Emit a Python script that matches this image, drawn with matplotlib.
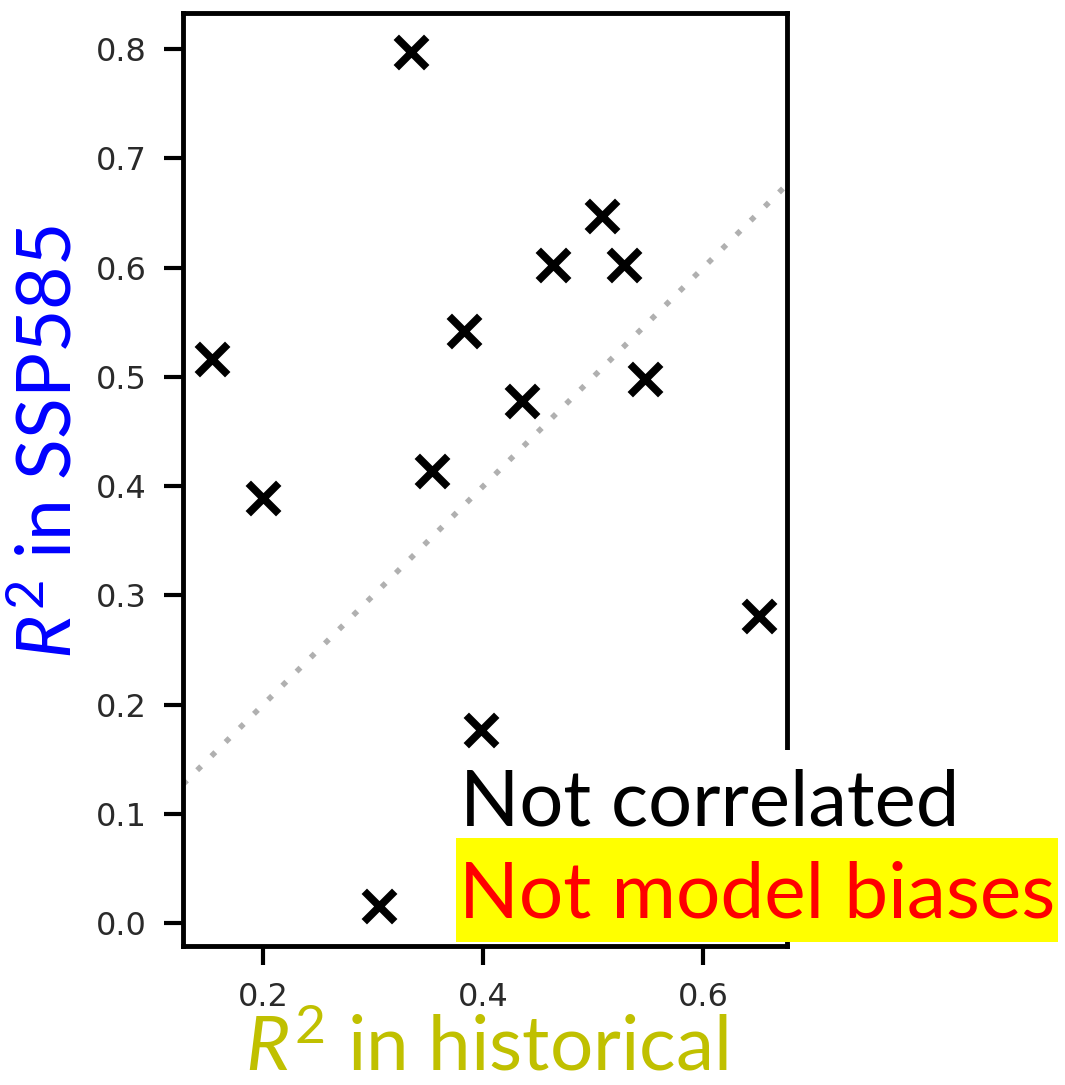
import matplotlib
matplotlib.use("Agg")
import matplotlib.pyplot as plt
from matplotlib.patches import Rectangle

# R^2 per model: historical vs SSP585
r2_hist = [0.153, 0.200, 0.334, 0.305, 0.353, 0.382, 0.398, 0.435, 0.463, 0.508, 0.528, 0.547, 0.651]
r2_ssp = [0.516, 0.389, 0.797, 0.016, 0.414, 0.542, 0.177, 0.478, 0.602, 0.647, 0.602, 0.498, 0.281]

xticks = [0.2, 0.4, 0.6]
yticks = [0.0, 0.1, 0.2, 0.3, 0.4, 0.5, 0.6, 0.7, 0.8]

plt.rcParams["mathtext.fontset"] = "custom"
plt.rcParams["mathtext.rm"] = "Lato"
plt.rcParams["mathtext.it"] = "Lato:italic"

W, H = 1065, 1085
fig = plt.figure(figsize=(W / 100, H / 100), dpi=100)
ax = fig.add_axes([183 / W, 1 - 946 / H, (787 - 183) / W, (946 - 13) / H])

# 1:1 reference line
xlim = (0.127, 0.676)
ax.plot(xlim, xlim, ls=(0, (1, 2.6)), color="#b0b0b0", lw=4, zorder=1)
ax.scatter(r2_hist, r2_ssp, marker="x", s=480, linewidths=5.5, color="black", zorder=3)

ax.set_xlim(*xlim)
ax.set_ylim(-0.021, 0.833)
ax.set_xticks(xticks)
ax.set_yticks(yticks)
ax.set_xticklabels([f"{v:.1f}" for v in xticks])
ax.set_yticklabels([f"{v:.1f}" for v in yticks])
ax.tick_params(labelsize=23, labelcolor="#2a2a2a", length=14, width=3, pad=12)
for s in ax.spines.values():
    s.set_linewidth(3.5)

fig.text(50 / W, 1 - 442 / H, r"$R^2$ in SSP585", rotation=90, color="#0000ff",
         fontsize=54, family="Lato", ha="center", va="center")
fig.text(486 / W, 1 - 1049 / H, r"$R^2$ in historical", color="#c0c000",
         fontsize=55, family="Lato", ha="center", va="center")

# white backing for the first note, yellow highlight for the second
fig.patches.append(Rectangle((456 / W, 1 - 838 / H), 505 / W, 88 / H,
                             transform=fig.transFigure, facecolor="white",
                             edgecolor="none", zorder=5))
fig.patches.append(Rectangle((456 / W, 1 - 942 / H), 602 / W, 104 / H,
                             transform=fig.transFigure, facecolor="#ffff00",
                             edgecolor="none", zorder=5))
fig.text(460 / W, 1 - 826 / H, "Not correlated", color="black", fontsize=56,
         family="Lato", ha="left", va="baseline", zorder=6)
fig.text(459 / W, 1 - 918 / H, "Not model biases", color="#ff0000", fontsize=56.5,
         family="Lato", ha="left", va="baseline", zorder=6)

fig.savefig("out.png", dpi=100)
